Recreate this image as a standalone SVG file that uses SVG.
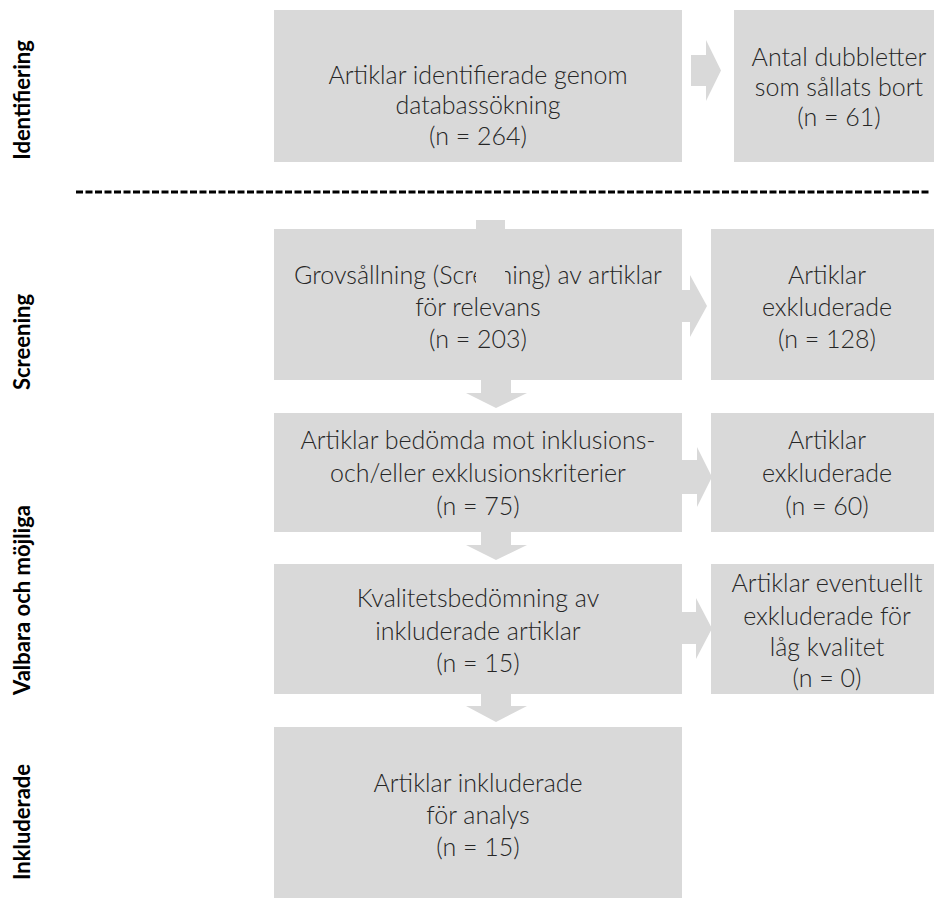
<svg xmlns="http://www.w3.org/2000/svg" width="934" height="898" viewBox="0 0 934 898">
  <style>
    .box { fill: #d9d9d9; }
    .arrow { fill: #d9d9d9; }
    .t { font-family: Lato, "Liberation Sans", sans-serif; font-weight: 300; font-size: 25px; fill: #262626; text-anchor: middle; }
    .lab { font-family: Lato, "Liberation Sans", sans-serif; font-weight: 700; font-size: 22px; fill: #000; text-anchor: middle; }
    .sep { stroke: #000; stroke-width: 3; stroke-dasharray: 7 2.5; fill: none; }
  </style>
  <rect width="934" height="898" fill="#ffffff"/>

  <g id="phase-labels">
    <text class="lab" transform="translate(30,100) rotate(-90)">Identifiering</text>
    <text class="lab" transform="translate(30,342) rotate(-90)">Screening</text>
    <text class="lab" transform="translate(30,600) rotate(-90)">Valbara och möjliga</text>
    <text class="lab" transform="translate(30,822) rotate(-90)">Inkluderade</text>
  </g>

  <line id="separator" class="sep" x1="76" y1="192" x2="930" y2="192"/>

  <g id="n-identified">
    <rect class="box" x="274" y="10" width="408" height="152"/>
    <text class="t" x="478" y="84">Artiklar identifierade genom</text>
    <text class="t" x="478" y="114">databassökning</text>
    <text class="t" x="478" y="145">(n = 264)</text>
  </g>
  <g id="n-duplicates">
    <rect class="box" x="734" y="10" width="210" height="152"/>
    <text class="t" x="839" y="66">Antal dubbletter</text>
    <text class="t" x="839" y="96">som sållats bort</text>
    <text class="t" x="839" y="126">(n = 61)</text>
  </g>
  <g id="n-screening">
    <rect class="box" x="274" y="229" width="408" height="151"/>
    <text class="t" x="478" y="284">Grovsållning (Screening) av artiklar</text>
    <text class="t" x="478" y="316">för relevans</text>
    <text class="t" x="478" y="348">(n = 203)</text>
  </g>
  <g id="n-excluded1">
    <rect class="box" x="711" y="229" width="233" height="151"/>
    <text class="t" x="827" y="284">Artiklar</text>
    <text class="t" x="827" y="316">exkluderade</text>
    <text class="t" x="827" y="348">(n = 128)</text>
  </g>
  <g id="n-eligibility">
    <rect class="box" x="274" y="413" width="408" height="119"/>
    <text class="t" x="478" y="449">Artiklar bedömda mot inklusions-</text>
    <text class="t" x="478" y="482">och/eller exklusionskriterier</text>
    <text class="t" x="478" y="515">(n = 75)</text>
  </g>
  <g id="n-excluded2">
    <rect class="box" x="711" y="413" width="233" height="119"/>
    <text class="t" x="827" y="449">Artiklar</text>
    <text class="t" x="827" y="482">exkluderade</text>
    <text class="t" x="827" y="515">(n = 60)</text>
  </g>
  <g id="n-quality">
    <rect class="box" x="274" y="564" width="408" height="130"/>
    <text class="t" x="478" y="607">Kvalitetsbedömning av</text>
    <text class="t" x="478" y="640">inkluderade artiklar</text>
    <text class="t" x="478" y="672">(n = 15)</text>
  </g>
  <g id="n-excluded3">
    <rect class="box" x="711" y="564" width="233" height="130"/>
    <text class="t" x="827" y="592">Artiklar eventuellt</text>
    <text class="t" x="827" y="625">exkluderade för</text>
    <text class="t" x="827" y="656">låg kvalitet</text>
    <text class="t" x="827" y="687">(n = 0)</text>
  </g>
  <g id="n-included">
    <rect class="box" x="274" y="727" width="408" height="171"/>
    <text class="t" x="478" y="792">Artiklar inkluderade</text>
    <text class="t" x="478" y="824">för analys</text>
    <text class="t" x="478" y="856">(n = 15)</text>
  </g>

  <g id="connectors">
    <polygon class="arrow" points="691,55 706,55 706,40 721,70.5 706,101 706,86 691,86"/>
    <rect class="arrow" x="476" y="220" width="29" height="72"/>
    <polygon class="arrow" points="682,290 690,290 690,275 707,306 690,337 690,322 682,322"/>
    <polygon class="arrow" points="682,460 697,460 697,447 712,477 697,507 697,494 682,494"/>
    <polygon class="arrow" points="682,612 696,612 696,598 712,628.5 696,659 696,644 682,644"/>
    <polygon class="arrow" points="481,380 511,380 511,393 527,393 496,408 466,393 481,393"/>
    <polygon class="arrow" points="481,532 511,532 511,545 527,545 496,560 466,545 481,545"/>
    <polygon class="arrow" points="481,694 511,694 511,706 527,706 496,722 466,706 481,706"/>
  </g>
</svg>
